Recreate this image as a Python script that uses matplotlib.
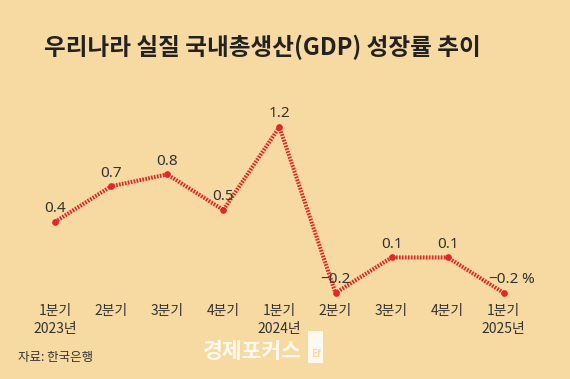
import matplotlib
matplotlib.use("Agg")
import matplotlib.pyplot as plt
from matplotlib.patches import Rectangle

plt.rcParams['font.family'] = ['Noto Sans CJK KR', 'DejaVu Sans']

quarters = ["1분기", "2분기", "3분기", "4분기", "1분기", "2분기", "3분기", "4분기", "1분기"]
years = ["2023년", "", "", "", "2024년", "", "", "", "2025년"]
values = [0.4, 0.7, 0.8, 0.5, 1.2, -0.2, 0.1, 0.1, -0.2]
value_labels = ["0.4", "0.7", "0.8", "0.5", "1.2", "−0.2", "0.1", "0.1", "−0.2"]

BG = "#F6DAA1"
RED = "#E4262A"
TXT = "#333333"

W, H = 570, 379
fig = plt.figure(figsize=(W / 100, H / 100), dpi=100, facecolor=BG)

# axes spanning pixel x 0..570, y 100..300 (from top)
ax = fig.add_axes([0, (H - 300) / H, 1, 200 / H])
ax.set_facecolor(BG)
px_per_x = 56.1
x0 = 55
ax.set_xlim(-x0 / px_per_x, (W - x0) / px_per_x)
ppu = 118.6
ax.set_ylim(-0.2 - 7 / ppu, -0.2 + 193 / ppu)
for s in ax.spines.values():
    s.set_visible(False)

xs = list(range(len(values)))
ax.plot(xs, values, color=RED, lw=2.9, linestyle=(0, (0.42, 0.32)),
        solid_capstyle='butt', dash_capstyle='butt', zorder=3)
ax.plot(xs, values, linestyle='none', marker='o', ms=3.8, color=RED, zorder=4)

for i, (v, lab) in enumerate(zip(values, value_labels)):
    ax.annotate(lab, (i, v), xytext=(0, 9.5), textcoords='offset points',
                ha='center', va='center', fontsize=11, color=TXT,
                family=['Noto Sans', 'DejaVu Sans'], zorder=5)
# percent sign after last label
ax.annotate("%", (len(values) - 1, values[-1]), xytext=(17.5, 9.5),
            textcoords='offset points', ha='center', va='center',
            fontsize=11, color=TXT, family=['Noto Sans', 'DejaVu Sans'])

ax.set_xticks(xs)
ax.set_xticklabels([q + ("\n" + y if y else "") for q, y in zip(quarters, years)],
                   fontsize=10, color=TXT, linespacing=1.35, va='top')
ax.tick_params(axis='x', length=0, pad=3)
ax.set_yticks([])

fig.text(262 / W, 1 - 47 / H, "우리나라 실질 국내총생산(GDP) 성장률 추이",
         ha='center', va='center', fontsize=17, fontweight='bold', color="#222222")

fig.text(18 / W, 1 - 357 / H, "자료: 한국은행", ha='left', va='center',
         fontsize=9, color=TXT)

fig.text(252 / W, 1 - 352 / H, "경제포커스", ha='center', va='center',
         fontsize=15.5, fontweight='bold', color="white", alpha=0.85)
fig.patches.append(Rectangle((308 / W, 1 - 363 / H), 15 / W, 32 / H,
                             transform=fig.transFigure, facecolor="white",
                             alpha=0.85, edgecolor='none'))
fig.text(316 / W, 1 - 354 / H, "Ef", ha='center', va='center', fontsize=7,
         fontweight='bold', color=BG)

fig.savefig("out.png", dpi=100, facecolor=BG)
